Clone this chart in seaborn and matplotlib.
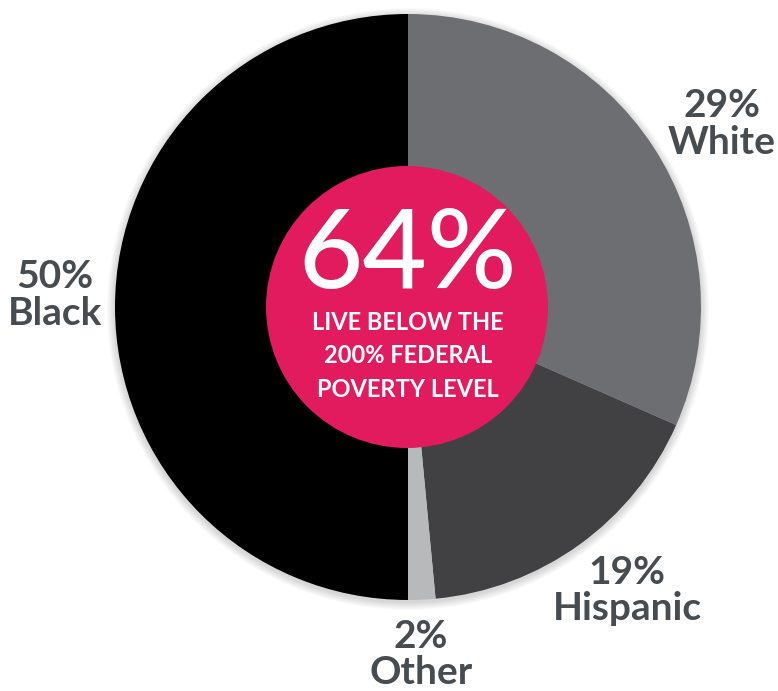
import matplotlib.pyplot as plt
import seaborn as sns
from matplotlib.patches import Circle

# wedge shares as drawn in the picture (clockwise from top)
groups = ['White', 'Hispanic', 'Other', 'Black']
shares = [31.6, 16.9, 1.5, 50.0]
pct_labels = ['29%', '19%', '2%', '50%']
colors = ['#6d6e71', '#414042', '#b8b9bb', '#000000']

center_value = '64%'
center_text = ['LIVE BELOW THE', '200% FEDERAL', 'POVERTY LEVEL']

sns.set_theme(style='white')
plt.rcParams['font.family'] = ['Lato', 'DejaVu Sans']

W, H = 778, 691
fig = plt.figure(figsize=(W / 100, H / 100), dpi=100)
ax = fig.add_axes([0, 0, 1, 1])

cx, cy, r = 408, H - 307, 293

# soft shadow around the pie
for k in range(1, 9):
    ax.add_patch(Circle((cx, cy - 2), r + k, color='black', alpha=0.018, lw=0, zorder=0))

ax.pie(shares, colors=colors, startangle=90, counterclock=False,
       center=(cx, cy), radius=r, frame=True,
       wedgeprops=dict(linewidth=0, antialiased=True))
ax.set_xlim(0, W)
ax.set_ylim(0, H)
ax.set_aspect('equal')
ax.axis('off')

ax.add_patch(Circle((cx - 1, cy), 141, color='#e21b5f', lw=0, zorder=5))

ax.text(cx, H - 257, center_value, color='white', fontsize=80, fontweight='medium',
        ha='center', va='center', zorder=6)
for i, line in enumerate(center_text):
    ax.text(cx, H - (322 + 33.5 * i), line, color='white', fontsize=17,
            fontweight='bold', ha='center', va='center', zorder=6)

label_color = '#474c51'
label_pos = {'White': (722, 105), 'Hispanic': (627, 572),
             'Other': (421, 636), 'Black': (55, 276)}
for g, p in zip(groups, pct_labels):
    x, y = label_pos[g]
    ax.text(x, H - y, p, color=label_color, fontsize=28, fontweight='bold',
            ha='center', va='center')
    ax.text(x, H - (y + 37), g, color=label_color, fontsize=28, fontweight='bold',
            ha='center', va='center')

fig.savefig('out.png', dpi=100)
